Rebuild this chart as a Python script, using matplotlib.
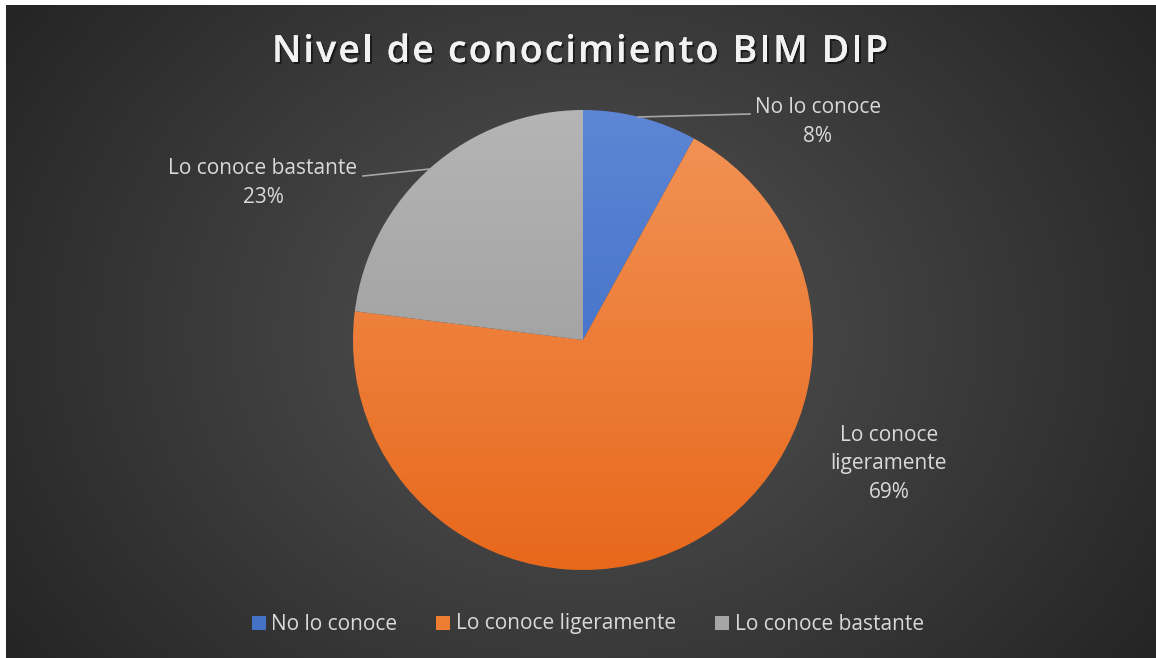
import numpy as np
import matplotlib
matplotlib.use("Agg")
import matplotlib.pyplot as plt
import matplotlib.patheffects as pe
from matplotlib.patches import Rectangle

# ---- data ----
title = "Nivel de conocimiento BIM DIP"
categories = ["No lo conoce", "Lo conoce ligeramente", "Lo conoce bastante"]
values = [8, 69, 23]
pie_labels = ["No lo conoce\n8%", "Lo conoce\nligeramente\n69%", "Lo conoce bastante\n23%"]
top_colors = ["#5d86d4", "#f29458", "#b5b5b5"]
bottom_colors = ["#3565c2", "#e8681b", "#939393"]
legend_colors = ["#4472c4", "#ed7d31", "#a5a5a5"]

W, H = 1156, 658
fig = plt.figure(figsize=(W / 100, H / 100), dpi=100, facecolor="white")

def fx(px):
    return px / W

def fy(py):
    return 1 - py / H

FONT = ["Open Sans", "DejaVu Sans"]
TXT = "#d9d9d9"

# ---- background radial gradient ----
bg = fig.add_axes([fx(6), 0, 1 - fx(6), fy(5)])
bg.set_axis_off()
yy, xx = np.mgrid[0:300, 0:500]
cx, cy = 250, 150
r = np.sqrt(((xx - cx) / 300.0) ** 2 + ((yy - cy) / 260.0) ** 2)
r = np.clip(r, 0, 1)
c0 = np.array([0x54, 0x54, 0x54]) / 255
c1 = np.array([0x25, 0x25, 0x25]) / 255
img = c0[None, None, :] * (1 - r[..., None]) + c1[None, None, :] * r[..., None]
bg.imshow(img, aspect="auto", extent=[0, 1, 0, 1], interpolation="bilinear")
bg.set_xlim(0, 1)
bg.set_ylim(0, 1)

# ---- pie ----
R = 230
cxp, cyp = 583, 340
ax = fig.add_axes([fx(cxp - R), fy(cyp + R), 2 * R / W, 2 * R / H])
ax.set_axis_off()
wedges, _ = ax.pie(values, startangle=90, counterclock=False, radius=1,
                   colors=["none"] * 3, wedgeprops=dict(linewidth=0))
t = np.linspace(0, 1, 256)[:, None]
for w, ct, cb in zip(wedges, top_colors, bottom_colors):
    a = np.array(matplotlib.colors.to_rgb(ct))
    b = np.array(matplotlib.colors.to_rgb(cb))
    grad = a[None, None, :] * (1 - t[..., None]) + b[None, None, :] * t[..., None]
    grad = np.repeat(grad, 2, axis=1)
    im = ax.imshow(grad, extent=[-1, 1, -1, 1], aspect="auto", origin="upper",
                   interpolation="bilinear", zorder=1)
    im.set_clip_path(w)
ax.set_xlim(-1, 1)
ax.set_ylim(-1, 1)

# ---- labels ----
fs = 15
LS = 1.45
fig.text(fx(818), fy(122), pie_labels[0], ha="center", va="center", fontsize=fs,
         color=TXT, family=FONT, linespacing=LS)
fig.text(fx(889), fy(464), pie_labels[1], ha="center", va="center", fontsize=fs,
         color=TXT, family=FONT, linespacing=LS)
fig.text(fx(263), fy(183), pie_labels[2], ha="center", va="center", fontsize=fs,
         color=TXT, family=FONT, linespacing=LS)
fig.add_artist(plt.Line2D([fx(638), fx(750)], [fy(117), fy(114)], color="#a6a6a6", lw=1.2))
fig.add_artist(plt.Line2D([fx(363), fx(430)], [fy(176), fy(169)], color="#a6a6a6", lw=1.2))

# ---- title with letter spacing ----
renderer = fig.canvas.get_renderer()
tfs = 27
tprops = dict(fontsize=tfs, fontweight=600, color="#f2f2f2", family=FONT, va="center", ha="left",
              path_effects=[pe.withSimplePatchShadow(offset=(1.5, -1.5), shadow_rgbFace="black", alpha=0.5),
                            pe.Normal()])
probe = fig.text(0, 0, "", **tprops)
adv = []
for i in range(len(title) + 1):
    probe.set_text(title[:i] + "|")
    wpx = probe.get_window_extent(renderer).width
    probe.set_text("|")
    wbar = probe.get_window_extent(renderer).width
    adv.append(wpx - wbar if i > 0 else 0.0)
probe.remove()
natural = adv[-1]
x0, x1 = 272, 888
extra = ((x1 - x0) - natural) / (len(title) - 1)
for i, ch in enumerate(title):
    xpos = x0 + adv[i] + extra * i
    fig.text(fx(xpos), fy(52), ch, **tprops)

# ---- legend ----
leg_sq = [252, 436, 715]
leg_txt = [271, 456, 735]
for xs, xt, lab, col in zip(leg_sq, leg_txt, categories, legend_colors):
    fig.add_artist(Rectangle((fx(xs), fy(630)), 14 / W, 14 / H, transform=fig.transFigure,
                             facecolor=col, edgecolor="none"))
    fig.text(fx(xt), fy(629.5), lab, ha="left", va="baseline", fontsize=fs,
             color=TXT, family=FONT)

fig.savefig("out.png", dpi=100, facecolor="white")
